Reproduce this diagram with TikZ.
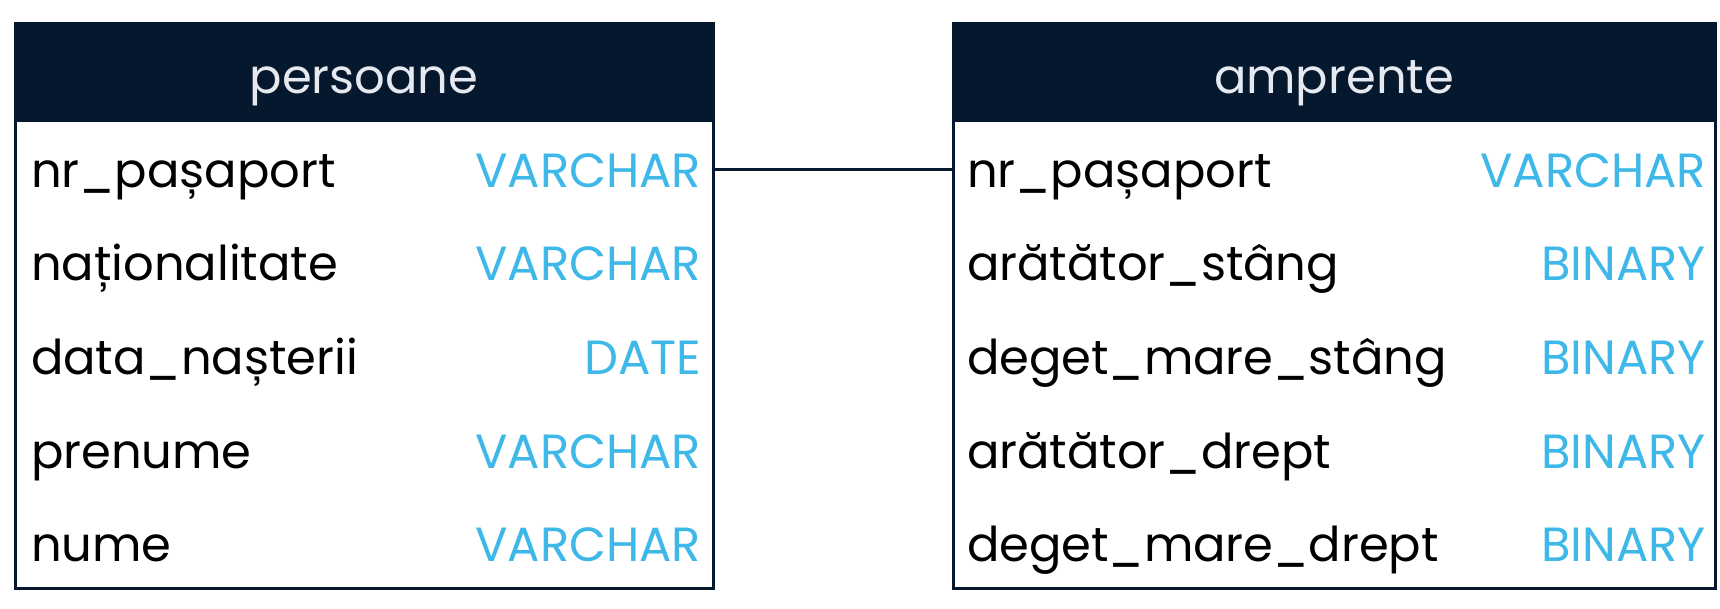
\documentclass[tikz,border=0pt]{standalone}
\usepackage{fontspec}
\setmainfont{Poppins}
\definecolor{navy}{HTML}{05182E}
\definecolor{typeblue}{HTML}{3DB8E8}
\definecolor{headtext}{HTML}{E6E9EF}
\begin{document}
\begin{tikzpicture}[x=1pt,y=1pt,
  head/.style={fill=navy,draw=navy,line width=3pt,inner sep=0pt,minimum height=97pt},
  body/.style={draw=navy,line width=3pt,fill=white,inner sep=0pt,minimum height=467pt},
  rowbox/.style={inner sep=0pt,minimum height=93pt},
  htext/.style={text=headtext,font=\fontsize{48}{56}\selectfont,anchor=base},
  fname/.style={text=black,font=\fontsize{48}{56}\selectfont,anchor=base west,inner sep=0pt},
  ftype/.style={text=typeblue,font=\fontsize{48}{56}\selectfont,anchor=base east,inner sep=0pt},
  link/.style={draw=navy,line width=3pt}]
\useasboundingbox (0,0) rectangle (1720,608);
% left table
\node[body,minimum width=698pt] (lb) at (364,253.5) {};
\node[head,minimum width=698pt] (lh) at (364,535.5) {};
\node[htext] (lht) at (364,514) {persoane};
\foreach \i/\y/\n/\t in {1/438/nr\_pașaport/VARCHAR,2/345/naționalitate/VARCHAR,3/251/data\_nașterii/DATE,4/158/prenume/VARCHAR,5/65/nume/VARCHAR}{
  \node[rowbox,minimum width=698pt] (l\i) at (364,\y) {};
  \node[fname] (ln\i) at ([xshift=16pt,yshift=-18pt]l\i.west) {\n};
  \node[ftype] (lt\i) at ([xshift=-12pt,yshift=-18pt]l\i.east) {\t};
}
% right table
\node[body,minimum width=762pt] (rb) at (1334,253.5) {};
\node[head,minimum width=762pt] (rh) at (1334,535.5) {};
\node[htext] (rht) at (1334,514) {amprente};
\foreach \i/\y/\n/\t in {1/438/nr\_pașaport/VARCHAR,2/345/arătător\_stâng/BINARY,3/251/deget\_mare\_stâng/BINARY,4/158/arătător\_drept/BINARY,5/65/deget\_mare\_drept/BINARY}{
  \node[rowbox,minimum width=762pt] (r\i) at (1334,\y) {};
  \node[fname] (rn\i) at ([xshift=14pt,yshift=-18pt]r\i.west) {\n};
  \node[ftype] (rt\i) at ([xshift=-9pt,yshift=-18pt]r\i.east) {\t};
}
\draw[link] (l1.east) -- (r1.west);
\end{tikzpicture}
\end{document}
